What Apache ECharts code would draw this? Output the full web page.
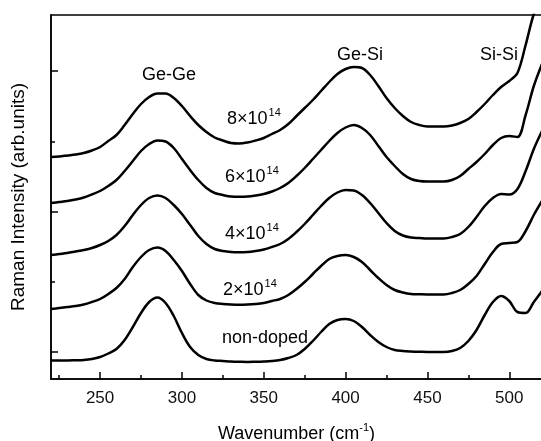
<!DOCTYPE html>
<html>
<head>
<meta charset="utf-8">
<script src="https://cdn.jsdelivr.net/npm/echarts@6/dist/echarts.min.js"></script>
<style>
  html, body { margin: 0; padding: 0; background: #fff; }
  #main { width: 541px; height: 441px; }
</style>
</head>
<body>
<div id="main"></div>
<script>
// wavenumber grid (cm-1), 5 cm-1 step
var wavenumber = [220,225,230,235,240,245,250,255,260,265,270,275,280,285,290,295,300,305,310,315,320,325,330,335,340,345,350,355,360,365,370,375,380,385,390,395,400,405,410,415,420,425,430,435,440,445,450,455,460,465,470,475,480,485,490,495,500,505,510,515,520];

// intensity, arbitrary units
var nonDoped = [18.5,18.5,18.5,18.7,19,20,22,25.5,30,39,52,66,77,81.5,76,63,46,32,24,20,18.5,18,17.5,17.2,17,17.2,17.5,18,19,21,24,30,38,47,55,59,60,58,52,44,37,32,29,28,27.5,27.2,27,27,27,28,31,38,49,64,77,83,78,67,66,77,88];
var dose2e14 = [70,71,72,73,74.5,77,80,85,91,100,112,122,129,131.5,128,119,108,95,84,78.5,76,75,74.5,74.3,74.5,75,76,78,80,84,90,97,105,113,120,123,124,122,117,109,101,94,89,86.5,85,84.7,84.5,84.5,84.5,86,89,95,103,115,127,135,136,137,148,164,178];
var dose4e14 = [124,125,126,127.5,129,131,134,138,144,153,164,174,181,183.5,181,174,165,154,143,135,130,128,127,126.8,127,128,129.5,132,135,140,147,155,164,173,181,186.5,189,188.5,184,176,166,156,148,143.5,141.5,141,140.5,140.5,140.5,142,145,152,162,173,181,185,184.5,190,208,230,248];
var dose6e14 = [176,177,178,179.5,181.5,184.5,188,193,199,208,218,228,235,238.5,237.5,231,220,209,199,191,186,184,182.5,182.3,182.5,183.5,185,187.5,191,196,203,211,220,229,238,246,251.5,254,251,244,233,222,213,205,200,198,197.5,197.5,197.5,199,203,210,217,225,234,241,243,242,264,293,315];
var dose8e14 = [222,222.5,223.5,224.5,226,228.5,232,238,244,254,265,275,282,285.5,285.5,281,273,263,254,247,241.5,238.5,236,235.5,236.5,238.5,241,245,249,255,263,271,279,288,297,305,310,312,311,304,293,281,271,263,257,254,252.5,252.5,252.5,253.5,256,260,267,275,284,292,298,306,334,365,384];

var xMajorTicks = [250,300,350,400,450,500];
var xMinorTicks = [225,275,325,375,425,475];
var yMajorTicks = [27,167,308];
var yMinorTicks = [97,237];

function pairs(ys) {
  return wavenumber.map(function (x, i) { return [x, ys[i]]; });
}

var FONT = '"Liberation Sans", Arial, sans-serif';

var chartDom = document.getElementById('main');
var myChart = echarts.init(chartDom, null, { renderer: 'canvas' });

function curve(name, ys) {
  return {
    name: name,
    type: 'line',
    data: pairs(ys),
    smooth: 0.35,
    symbol: 'none',
    clip: true,
    lineStyle: { color: '#000', width: 2.5 }
  };
}

function label(rich, x, y) {
  return {
    type: 'text',
    x: x,
    y: y,
    style: {
      text: rich,
      fill: '#000',
      font: '18px ' + FONT,
      align: 'left',
      textAlign: 'left',
      verticalAlign: 'middle',
      textVerticalAlign: 'middle',
      rich: {
        b: { fontSize: 18, fontFamily: FONT, lineHeight: 24, verticalAlign: 'middle' },
        sup: { fontSize: 11, fontFamily: FONT, lineHeight: 10, verticalAlign: 'top', padding: [0, 0, 0, 1] }
      }
    }
  };
}

var option = {
  animation: false,
  backgroundColor: '#fff',
  grid: {
    left: 51, right: -1, top: 15, bottom: 62,
    outerBoundsMode: 'none',
    containLabel: false,
    show: true, borderColor: '#000', borderWidth: 1.5, backgroundColor: 'transparent'
  },
  xAxis: [
    {
      type: 'value', min: 220, max: 520,
      name: 'Wavenumber (cm{sup|-1})',
      nameLocation: 'middle', nameGap: 43,
      nameTextStyle: {
        color: '#000', fontSize: 18, fontFamily: FONT, lineHeight: 24,
        rich: { sup: { fontSize: 11, fontFamily: FONT, verticalAlign: 'top', lineHeight: 10, color: '#000' } }
      },
      axisLine: { lineStyle: { color: '#000', width: 1.5 } },
      axisTick: { inside: true, length: 7, customValues: xMajorTicks, lineStyle: { color: '#000', width: 1.5 } },
      axisLabel: { customValues: xMajorTicks, color: '#111', fontSize: 17, fontFamily: FONT, margin: 11 },
      splitLine: { show: false }
    },
    {
      type: 'value', min: 220, max: 520, position: 'bottom',
      axisLine: { show: false },
      axisTick: { inside: true, length: 4, customValues: xMinorTicks, lineStyle: { color: '#000', width: 1.5 } },
      axisLabel: { show: false },
      splitLine: { show: false }
    }
  ],
  yAxis: [
    {
      type: 'value', min: 0, max: 364,
      name: 'Raman Intensity (arb.units)',
      nameLocation: 'middle', nameGap: 23, nameRotate: 90,
      nameTextStyle: { color: '#000', fontSize: 19, fontFamily: FONT },
      axisLine: { show: true, lineStyle: { color: '#000', width: 1.5 } },
      axisTick: { show: true, inside: true, length: 7, customValues: yMajorTicks, lineStyle: { color: '#000', width: 1.5 } },
      axisLabel: { show: false },
      splitLine: { show: false }
    },
    {
      type: 'value', min: 0, max: 364, position: 'left',
      axisLine: { show: false },
      axisTick: { show: true, inside: true, length: 4, customValues: yMinorTicks, lineStyle: { color: '#000', width: 1.5 } },
      axisLabel: { show: false },
      splitLine: { show: false }
    }
  ],
  series: [
    curve('non-doped', nonDoped),
    curve('2e14', dose2e14),
    curve('4e14', dose4e14),
    curve('6e14', dose6e14),
    curve('8e14', dose8e14)
  ],
  graphic: [
    label('{b|Ge-Ge}', 142, 75),
    label('{b|Ge-Si}', 337, 55),
    label('{b|Si-Si}', 480, 55),
    label('{b|8×10}{sup|14}', 227, 119),
    label('{b|6×10}{sup|14}', 225, 177),
    label('{b|4×10}{sup|14}', 225, 234),
    label('{b|2×10}{sup|14}', 223, 290),
    label('{b|non-doped}', 222, 338)
  ]
};

myChart.setOption(option);
</script>
</body>
</html>
